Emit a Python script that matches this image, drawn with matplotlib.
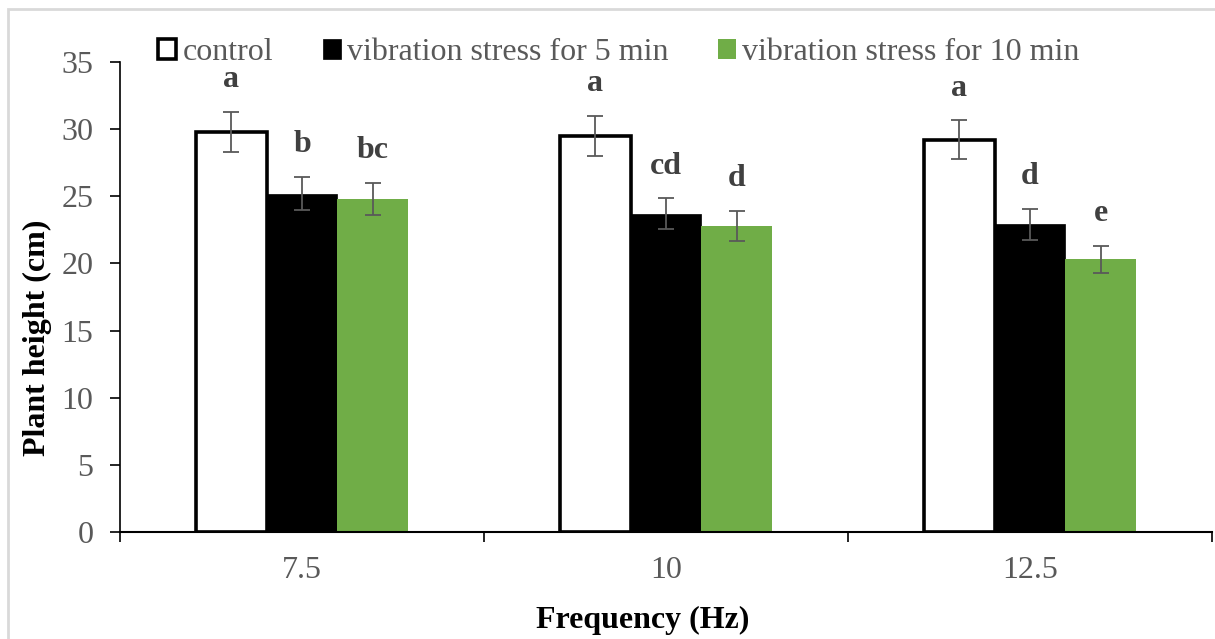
import matplotlib
matplotlib.use("Agg")
import matplotlib.pyplot as plt
from matplotlib.patches import Rectangle
import numpy as np

plt.rcParams['font.family'] = ['Liberation Serif', 'DejaVu Serif']

# data
frequencies = ["7.5", "10", "12.5"]
series_names = ["control", "vibration stress for 5 min", "vibration stress for 10 min"]
control = [29.8, 29.5, 29.2]
control_err = [1.5, 1.5, 1.45]
stress_5 = [25.2, 23.7, 22.9]
stress_5_err = [1.25, 1.15, 1.15]
stress_10 = [24.8, 22.8, 20.3]
stress_10_err = [1.2, 1.1, 1.0]
letters_control = ["a", "a", "a"]
letters_5 = ["b", "cd", "d"]
letters_10 = ["bc", "d", "e"]

gray = '#595959'
fs = 23

fig = plt.figure(figsize=(12.15, 6.39), dpi=100)
ax = fig.add_axes([120 / 1215, 1 - 532 / 639, 1092 / 1215, 470 / 639])

# light frame around the chart area like the Excel export
fig.patches.append(Rectangle((8 / 1215, -0.1), 1.1, 1.1 - 9 / 639,
                             transform=fig.transFigure, fill=False,
                             edgecolor='#d9d9d9', linewidth=2))

x = np.arange(len(frequencies))
w = 0.195
err_kw = dict(ecolor=gray, elinewidth=1.3, capsize=5.5, capthick=1.3)

ax.bar(x - w, control, w, yerr=control_err, color='white', edgecolor='black',
       linewidth=2.6, label=series_names[0], error_kw=err_kw, zorder=2)
ax.bar(x, stress_5, w, yerr=stress_5_err, color='black', edgecolor='black',
       linewidth=0.5, label=series_names[1], error_kw=err_kw, zorder=2)
ax.bar(x + w, stress_10, w, yerr=stress_10_err, color='#70AD47',
       linewidth=0, label=series_names[2], error_kw=err_kw, zorder=2)

# significance letters above the error bars
groups = [(x - w, control, control_err, letters_control),
          (x, stress_5, stress_5_err, letters_5),
          (x + w, stress_10, stress_10_err, letters_10)]
for xs, vals, errs, labs in groups:
    for xi, v, e, lab in zip(xs, vals, errs, labs):
        ax.text(xi, v + e + 2.4, lab, ha='center', va='center',
                fontsize=fs, fontweight='bold', color='#404040')

ax.set_ylim(0, 35)
ax.set_yticks(np.arange(0, 36, 5))
ax.set_xlim(-0.5, len(frequencies) - 0.5)
ax.set_xticks(np.arange(-0.5, len(frequencies), 1.0))
ax.set_xticklabels([])
ax.set_xticks(x, minor=True)
ax.set_xticklabels(frequencies, minor=True)
ax.tick_params(axis='x', which='major', direction='out', length=7, width=1.2, color='black')
ax.tick_params(axis='x', which='minor', length=0, pad=17, labelsize=fs, labelcolor=gray)
ax.tick_params(axis='y', direction='out', length=7, width=1.2, color='black',
               pad=12, labelsize=fs, labelcolor=gray)

for side in ['top', 'right']:
    ax.spines[side].set_visible(False)
ax.spines['left'].set_linewidth(1.2)
ax.spines['bottom'].set_linewidth(1.5)

ax.set_xlabel("Frequency (Hz)", fontsize=fs, fontweight='bold', color='black')
ax.xaxis.label.set_va('center')
ax.xaxis.set_label_coords(0.479, -0.188)
ax.set_ylabel("Plant height (cm)", fontsize=fs, fontweight='bold', color='black')
ax.yaxis.label.set_va('center')
ax.yaxis.set_label_coords(-0.076, 0.413)

leg = fig.legend(loc='center', bbox_to_anchor=(619 / 1215, 1 - 53 / 639), ncol=3,
                 frameon=False, fontsize=fs, handlelength=0.56, handleheight=0.56,
                 handletextpad=0.2, columnspacing=1.55, borderpad=0)
for t in leg.get_texts():
    t.set_color(gray)

fig.savefig("out.png", dpi=100)
